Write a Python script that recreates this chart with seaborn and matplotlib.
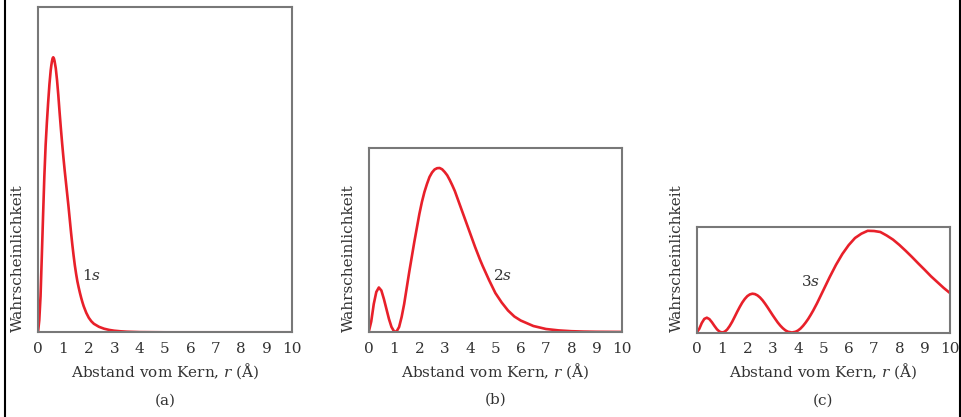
import numpy as np
import pandas as pd
import seaborn as sns
import matplotlib.pyplot as plt
from matplotlib.lines import Line2D

# radial probability (arbitrary units: pixels above baseline)
r_1s = [0, 0.05, 0.1, 0.15, 0.2, 0.25, 0.3, 0.35, 0.4, 0.45, 0.5, 0.525, 0.55, 0.575,
        0.6, 0.625, 0.65, 0.7, 0.75, 0.8, 0.85, 0.9, 0.95, 1.0, 1.05, 1.1, 1.15, 1.2,
        1.25, 1.3, 1.35, 1.4, 1.45, 1.5, 1.55, 1.6, 1.65, 1.7, 1.75, 1.8, 1.9, 2.0,
        2.1, 2.2, 2.4, 2.6, 2.8, 3.0, 3.25, 3.5, 4.0, 5.0, 10.0]
p_1s = [0, 12, 36, 76, 117, 156, 187, 210, 230, 248, 262, 267, 271, 274,
        275, 274, 271.5, 264, 252, 237, 220, 204, 189, 175, 162, 150, 138, 126,
        113, 100, 88, 77, 67, 58.5, 51, 45, 39.5, 34.5, 30, 26, 19.5, 14.5,
        11, 8.5, 5.5, 3.6, 2.4, 1.6, 1.0, 0.6, 0.2, 0, 0]

r_2s = [0, 0.1, 0.2, 0.3, 0.4, 0.5, 0.6, 0.7, 0.8, 0.9, 1.0, 1.06, 1.1, 1.2, 1.3,
        1.4, 1.5, 1.6, 1.7, 1.8, 1.9, 2.0, 2.1, 2.2, 2.3, 2.4, 2.5, 2.6, 2.7, 2.8,
        2.9, 3.0, 3.1, 3.2, 3.3, 3.4, 3.5, 3.6, 3.7, 3.8, 3.9, 4.0, 4.1, 4.2, 4.3,
        4.4, 4.5, 4.75, 5.0, 5.25, 5.5, 5.75, 6.0, 6.5, 7.0, 7.5, 8.0, 8.5, 9.0, 10.0]
p_2s = [0, 10.5, 28, 40, 44.5, 41.5, 33, 23, 13, 5, 0.7, 0, 0.5, 5, 15,
        28, 44, 60, 75, 90, 104, 118, 130, 140, 148, 155, 159.5, 162.5, 163.8, 164,
        162.7, 160, 156.7, 152, 146.7, 141, 134, 127, 120, 113, 106, 99, 92, 85, 78.5,
        72, 66, 52, 39, 29.5, 21.5, 15.5, 11.5, 6, 3, 1.6, 0.8, 0.4, 0.2, 0.05]

r_3s = [0, 0.1, 0.2, 0.3, 0.4, 0.5, 0.6, 0.7, 0.8, 0.9, 1.0, 1.1, 1.2, 1.3, 1.4,
        1.5, 1.6, 1.7, 1.8, 1.9, 2.0, 2.1, 2.2, 2.3, 2.4, 2.5, 2.6, 2.7, 2.8, 2.9,
        3.0, 3.1, 3.2, 3.3, 3.4, 3.5, 3.6, 3.76, 3.9, 4.0, 4.1, 4.2, 4.3, 4.4, 4.5,
        4.6, 4.75, 5.0, 5.25, 5.5, 5.75, 6.0, 6.25, 6.5, 6.75, 7.0, 7.25, 7.5, 7.75,
        8.0, 8.25, 8.5, 8.75, 9.0, 9.25, 9.5, 9.75, 10.0]
p_3s = [0, 3.6, 9.5, 13.6, 14.8, 13.4, 10.3, 6.6, 3.2, 0.9, 0, 0.7, 2.9, 6.4, 10.7,
        15.7, 20.8, 25.6, 30, 33.6, 36.4, 38.1, 38.8, 38.4, 37.1, 35, 32.2, 28.8, 25.1, 21.2,
        17.3, 13.6, 10, 6.9, 4.3, 2.2, 0.8, 0, 0.7, 2, 4, 6.7, 9.9, 13.5, 17.6,
        22, 29.2, 42.3, 55.4, 67.7, 78.5, 87.4, 94.5, 98.8, 101.7, 101.5, 100.5, 97, 92.9,
        87.6, 81.7, 75.5, 69, 62.7, 56.2, 50.4, 44.6, 39.4]

panels = [
    ("1", "(a)", r_1s, p_1s),
    ("2", "(b)", r_2s, p_2s),
    ("3", "(c)", r_3s, p_3s),
]

sns.set_theme(style="white")
plt.rcParams["font.family"] = ["DejaVu Serif"]
plt.rcParams["mathtext.fontset"] = "dejavuserif"

fig = plt.figure(figsize=(9.62, 4.17), dpi=100)
W, H = 962, 417
# axes boxes in pixels: left, bottom(from top), width, height
boxes = [(38, 332.3, 254, 325.3), (368.7, 332, 253.3, 184), (696.7, 332.5, 253.3, 106)]
label_pos = [(1.73, 57), (4.9, 56), (4.13, 51)]

red = "#e8202a"
txt = "#333333"
for (n, tag, r, p), (x0, yb, w, h), (lx, ly) in zip(panels, boxes, label_pos):
    ax = fig.add_axes([x0 / W, (H - yb) / H, w / W, h / H])
    df = pd.DataFrame({"r": r, "p": p})
    sns.lineplot(data=df, x="r", y="p", ax=ax, color=red, linewidth=1.9)
    ax.lines[0].set_solid_joinstyle("round")
    ax.set_xlim(0, 10)
    ax.set_ylim(0, h)
    ax.set_xticks(range(0, 11))
    ax.set_yticks([])
    ax.tick_params(axis="x", length=0, pad=7, labelsize=11, labelcolor=txt)
    for s in ax.spines.values():
        s.set_color("#787878")
        s.set_linewidth(1.5)
    ax.set_xlabel(r"Abstand vom Kern, $r$ (Å)", fontsize=11, color=txt, labelpad=4)
    ax.set_ylabel("Wahrscheinlichkeit", fontsize=11, color=txt, loc="bottom")
    ax.yaxis.set_label_coords(-13 / w, 0)
    ax.text(lx, ly, n + "$s$", fontsize=11, color=txt, va="center", ha="left")
    ax.annotate(tag, xy=(0.5, 0), xycoords="axes fraction", xytext=(0, -49),
                textcoords="offset points", ha="center", va="center",
                fontsize=11, color=txt)

# black frame edges of the original figure
fig.add_artist(Line2D([4.5 / W, 4.5 / W], [0, 1], transform=fig.transFigure, color="black", lw=1.5))
fig.add_artist(Line2D([960.5 / W, 960.5 / W], [0, 1], transform=fig.transFigure, color="black", lw=1.5))

fig.savefig("out.png", dpi=100)
